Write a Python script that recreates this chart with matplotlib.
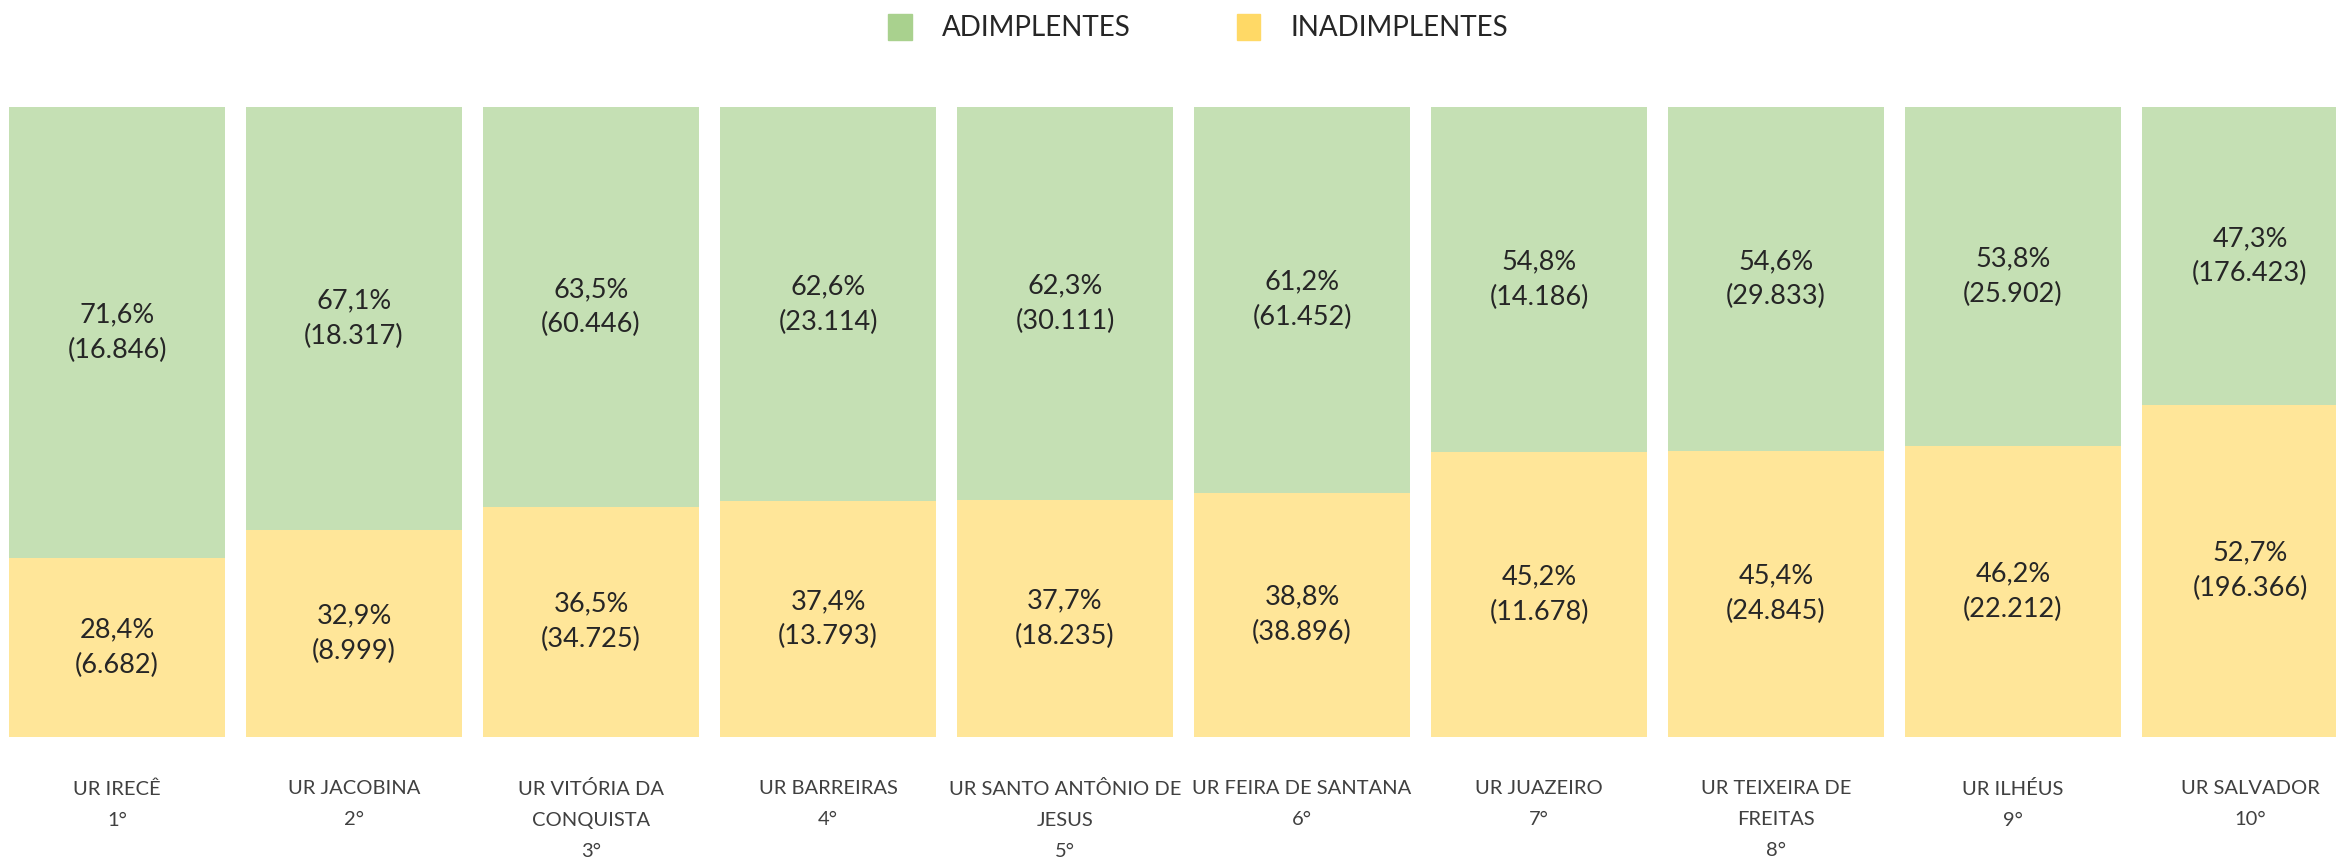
import numpy as np
import matplotlib.pyplot as plt
from matplotlib.patches import Patch

plt.rcParams['font.family'] = ['Lato', 'DejaVu Sans']

# DATA
regions = ["UR IRECÊ\n1°", "UR JACOBINA\n2°", "UR VITÓRIA DA\nCONQUISTA\n3°", "UR BARREIRAS\n4°",
           "UR SANTO ANTÔNIO DE\nJESUS\n5°", "UR FEIRA DE SANTANA\n6°", "UR JUAZEIRO\n7°",
           "UR TEIXEIRA DE\nFREITAS\n8°", "UR ILHÉUS\n9°", "UR SALVADOR\n10°"]
adimp_pct = [71.6, 67.1, 63.5, 62.6, 62.3, 61.2, 54.8, 54.6, 53.8, 47.3]
inadimp_pct = [28.4, 32.9, 36.5, 37.4, 37.7, 38.8, 45.2, 45.4, 46.2, 52.7]
adimp_n = ["16.846", "18.317", "60.446", "23.114", "30.111", "61.452", "14.186", "29.833", "25.902", "176.423"]
inadimp_n = ["6.682", "8.999", "34.725", "13.793", "18.235", "38.896", "11.678", "24.845", "22.212", "196.366"]

green = "#C5E0B4"
yellow = "#FFE699"
text_col = "#262626"

fig = plt.figure(figsize=(23.36, 8.65), dpi=100)
ax = fig.add_axes([0, 0.148, 1, 0.728])

x = np.arange(len(regions))
w = 0.912
ax.bar(x, inadimp_pct, width=w, color=yellow)
ax.bar(x, adimp_pct, width=w, bottom=inadimp_pct, color=green)

def fmt(v):
    return ("%.1f" % v).replace(".", ",") + "%"

for i in range(len(x)):
    ax.text(x[i], inadimp_pct[i] / 2, fmt(inadimp_pct[i]) + "\n(" + inadimp_n[i] + ")",
            ha="center", va="center", fontsize=19.5, color=text_col, linespacing=1.52)
    ax.text(x[i], inadimp_pct[i] + adimp_pct[i] / 2, fmt(adimp_pct[i]) + "\n(" + adimp_n[i] + ")",
            ha="center", va="center", fontsize=19.5, color=text_col, linespacing=1.52)

ax.set_xlim(-0.494, 9.363)
ax.set_ylim(0, 100)
ax.set_xticks(x)
ax.set_xticklabels(regions, fontsize=14.5, color="#404040", va="top")
for lab in ax.get_xticklabels():
    lab.set_linespacing(2.0)
ax.tick_params(axis="x", length=0, pad=31)
ax.set_yticks([])
for s in ax.spines.values():
    s.set_visible(False)

handles = [Patch(color="#A9D18E", label="ADIMPLENTES"), Patch(color="#FFD966", label="INADIMPLENTES")]
fig.legend(handles=handles, loc="center", bbox_to_anchor=(0.513, 0.968), ncol=2, frameon=False,
           fontsize=20, handlelength=0.85, handleheight=1.05, handletextpad=1.1, columnspacing=3.8,
           labelcolor=text_col)

fig.savefig("out.png", dpi=100)
